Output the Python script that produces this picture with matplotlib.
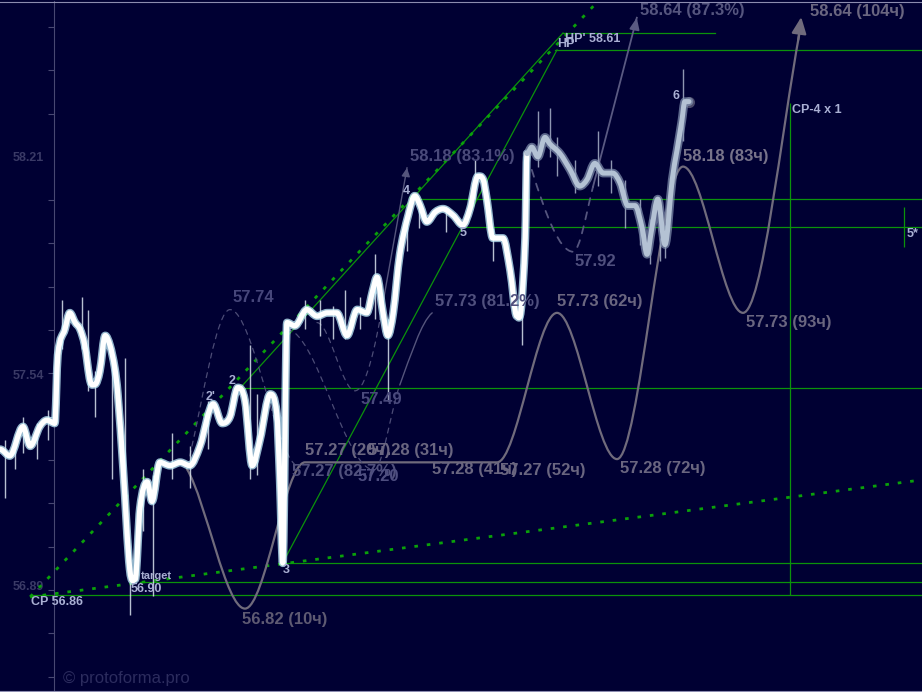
import numpy as np
import matplotlib.pyplot as plt
from matplotlib.path import Path
from matplotlib.patches import PathPatch

# x: hours from the start of the projection, y: price
t_left, t_right = -30.83, 122.83
p_low, p_high = 56.568, 58.688
axis_t = -21.83

# price line (white part, then grey part)
line_t = [-30.8, -29.2, -27.0, -25.8, -24.2, -23.0, -21.7, -21.2, -20.0, -19.2, -18.3, -17.5,
          -16.7, -15.8, -15.0, -14.2, -13.3, -12.5, -11.7, -11.2, -10.3, -9.2, -8.3, -7.5,
          -6.3, -5.5, -4.2, -2.5, -0.8, 0.8, 2.5, 4.7, 6.2, 7.5, 8.8, 10.0, 11.2, 12.5,
          14.2, 15.3, 15.8, 16.3, 17.0, 18.3, 20.3, 22.0, 23.7, 25.3, 27.0, 28.7, 30.3,
          31.3, 32.0, 33.0, 33.8, 34.7, 35.8, 37.2, 38.3, 39.2, 40.3, 41.7, 43.0, 44.7,
          46.3, 47.5, 48.8, 49.7, 50.3, 51.3, 53.0, 54.2, 55.3, 56.0, 56.7, 57.0]
line_p = [57.31, 57.29, 57.38, 57.32, 57.38, 57.40, 57.39, 57.60, 57.68, 57.73, 57.70, 57.68,
          57.63, 57.52, 57.51, 57.55, 57.66, 57.63, 57.56, 57.48, 57.25, 56.94, 56.91, 57.13,
          57.21, 57.15, 57.27, 57.26, 57.27, 57.26, 57.32, 57.45, 57.39, 57.41, 57.50, 57.46,
          57.26, 57.34, 57.48, 57.42, 57.22, 56.96, 57.70, 57.69, 57.74, 57.72, 57.73, 57.73,
          57.66, 57.74, 57.73, 57.80, 57.84, 57.73, 57.66, 57.73, 57.91, 58.03, 58.09, 58.06,
          58.01, 58.04, 58.05, 58.03, 58.00, 58.05, 58.15, 58.14, 58.08, 57.96, 57.96, 57.86,
          57.72, 57.74, 57.96, 58.22]
gray_t = [57.0, 57.8, 58.8, 60.0, 60.8, 62.5, 64.2, 65.8, 67.0, 68.3, 69.7, 71.3, 72.5,
          73.8, 75.0, 76.2, 77.0, 77.8, 78.8, 80.0, 81.2, 82.0, 82.8, 83.3, 84.0]
gray_p = [58.22, 58.24, 58.21, 58.27, 58.25, 58.22, 58.17, 58.12, 58.14, 58.19, 58.16, 58.16,
          58.13, 58.06, 58.06, 57.99, 57.91, 57.99, 58.08, 57.94, 58.14, 58.23, 58.32, 58.38,
          58.38]

# candle wicks
wick_t = [-30, -28.3, -27, -24.7, -22.8, -20.5, -17.2, -16.2, -15, -12.2, -10, -9.2, -7,
          -5.3, -2.2, 0.8, 3.8, 10.8, 12, 15.8, 20, 22.5, 24.7, 26.7, 29.2, 31.7, 33.8, 37,
          39, 43.5, 48.3, 51.3, 56.2, 58.8, 60.8, 62, 65, 68.8, 71, 73.3, 75.8, 77.5, 79.2,
          80, 83]
wick_lo = [57.16, 57.25, 57.30, 57.28, 57.34, 57.62, 57.62, 57.49, 57.41, 57.22, 57.22, 56.80,
           57.06, 56.86, 57.22, 57.19, 57.31, 57.22, 57.23, 56.96, 57.68, 57.66, 57.65, 57.65,
           57.68, 57.71, 57.46, 57.92, 57.99, 57.98, 58.08, 57.89, 57.63, 58.18, 58.21, 58.15,
           58.10, 58.12, 58.10, 57.99, 57.94, 57.88, 57.89, 57.90, 58.26]
wick_hi = [57.34, 57.35, 57.41, 57.39, 57.43, 57.77, 57.78, 57.74, 57.55, 57.62, 57.59, 56.90,
           57.25, 57.23, 57.36, 57.32, 57.46, 57.63, 57.48, 57.31, 57.77, 57.77, 57.75, 57.80,
           57.78, 57.91, 57.71, 58.05, 58.08, 58.06, 58.20, 57.99, 57.80, 58.35, 58.36, 58.27,
           58.20, 58.29, 58.20, 58.14, 58.08, 58.02, 57.96, 58.00, 58.48]

# main projection (hours, price)
proj_t = [0.3, 10, 20, 31, 41, 52, 62, 72, 83, 93, 102.5]
proj_p = [57.25, 56.82, 57.27, 57.27, 57.27, 57.27, 57.73, 57.28, 58.18, 57.73, 58.60]

# alternative (dashed) projections
d1_t, d1_p = [0.8, 7.5, 19.2], [57.29, 57.74, 57.255]
d2_t, d2_p = [22.0, 28.3, 32.5], [57.70, 57.49, 57.71]
d2_tip = (37.0, 58.176)
d3_t, d3_p = [17.0, 31.5, 35.8], [57.678, 57.247, 57.508]
d3_end = (41.2, 57.73)
d4_t, d4_p = [57.8, 64.7, 68.0], [58.17, 57.918, 58.118]
d4_tip = (75.3, 58.638)

# green levels
hl_p = [58.539, 58.591, 58.081, 57.995, 57.499, 56.961, 56.902, 56.862]
hl_t0 = [61.7, 63.0, 37.5, 46.2, 9.2, 16.3, -7.5, -25.8]
hl_t1 = [t_right, 88.3, t_right, t_right, t_right, t_right, t_right, t_right]
vl_t = [100.8, 119.8]
vl_lo = [56.862, 57.933]
vl_hi = [58.376, 58.056]
diag = [((9.2, 57.499), (63.0, 58.591)), ((16.3, 56.961), (62.0, 58.539))]
cp = (-25.8, 56.856)
dot_ends = [(72.0, 58.75), (122.8, 57.216)]

big_labels = [
    ("58.64 (87.3%)", 75.8, 58.659, '#55557e'),
    ("58.64 (104ч)", 104.2, 58.656, '#6a6680'),
    ("58.18 (83ч)", 83.0, 58.210, '#77738a'),
    ("57.73 (93ч)", 93.5, 57.699, '#6a6680'),
    ("57.73 (62ч)", 62.0, 57.764, '#6a6680'),
    ("57.28 (72ч)", 72.5, 57.250, '#6a6680'),
    ("57.28 (41ч)", 41.2, 57.247, '#6a6680'),
    ("57.27 (52ч)", 52.5, 57.244, '#6a6680'),
    ("57.28 (31ч)", 30.5, 57.305, '#6a6680'),
    ("57.27 (20ч)", 20.0, 57.305, '#6a6680'),
    ("57.27 (82.7%)", 17.8, 57.241, '#50507c'),
    ("57.20", 28.7, 57.225, '#4e4e80'),
    ("57.49", 29.2, 57.462, '#4a4a7c'),
    ("57.73 (81.2%)", 41.7, 57.764, '#50507e'),
    ("57.92", 65.0, 57.887, '#50507e'),
    ("58.18 (83.1%)", 37.5, 58.210, '#4a4a7a'),
    ("57.74", 8.0, 57.776, '#46467a'),
    ("56.82 (10ч)", 9.5, 56.785, '#5e5a72'),
]
small_labels = [
    ("HP", 62.0, 58.558, 9), ("HP' 58.61", 63.3, 58.572, 9), ("CP 56.86", -25.7, 56.841, 9),
    ("target", -7.3, 56.919, 8), ("56.90", -9.0, 56.881, 9), ("3", 16.3, 56.939, 9),
    ("2'", 3.5, 57.471, 9), ("2", 7.3, 57.521, 9), ("4", 36.3, 58.105, 9),
    ("5", 45.8, 57.976, 9), ("6", 81.3, 58.398, 9), ("CP-4 x 1", 101.2, 58.355, 9),
    ("5*", 120.2, 57.973, 9),
]
ytick_vals = [56.89, 57.54, 58.21]


def smooth(ts, ps, s0=0.0, s1=0.0):
    ts = np.asarray(ts, float)
    ps = np.asarray(ps, float)
    n = len(ts)
    m = np.zeros(n)
    for i in range(1, n - 1):
        a, b = ps[i] - ps[i - 1], ps[i + 1] - ps[i]
        if a * b > 0:
            m[i] = (ps[i + 1] - ps[i - 1]) / (ts[i + 1] - ts[i - 1])
    m[0], m[-1] = s0, s1
    verts = [(ts[0], ps[0])]
    codes = [Path.MOVETO]
    for i in range(n - 1):
        d = (ts[i + 1] - ts[i]) / 3
        verts += [(ts[i] + d, ps[i] + m[i] * d), (ts[i + 1] - d, ps[i + 1] - m[i + 1] * d),
                  (ts[i + 1], ps[i + 1])]
        codes += [Path.CURVE4] * 3
    return Path(verts, codes)


def draw(ax, path, **kw):
    ax.add_patch(PathPatch(path, fill=False, capstyle='round', joinstyle='round', **kw))


def tip(ax, start, end, color, lw, hl=0.6, hw=0.3):
    ax.annotate('', xy=end, xytext=start,
                arrowprops=dict(arrowstyle='-|>,head_length=%s,head_width=%s' % (hl, hw),
                                color=color, lw=lw, shrinkA=0, shrinkB=0), zorder=4)


fig = plt.figure(figsize=(9.22, 6.92), dpi=100)
fig.patch.set_facecolor('#000033')
ax = fig.add_axes([0, 1.5 / 692, 1, 689 / 692])
ax.set_facecolor('#000033')
ax.set_xlim(t_left, t_right)
ax.set_ylim(p_low, p_high)

green = '#0b930b'
# green levels
for p, a, b in zip(hl_p, hl_t0, hl_t1):
    ax.plot([a, b], [p, p], color=green, lw=0.9, zorder=2)
ax.vlines(vl_t, vl_lo, vl_hi, colors=green, lw=0.9, zorder=2)
for (a, b) in diag:
    ax.plot([a[0], b[0]], [a[1], b[1]], color=green, lw=0.9, zorder=2)
for e in dot_ends:
    ax.plot([cp[0], e[0]], [cp[1], e[1]], color='#0aa00a', lw=2.0,
            linestyle=(0, (1.3, 3.2)), zorder=2)

# projections
pc = '#706b7c'
draw(ax, smooth(proj_t, proj_p, s0=-0.03, s1=0.1), ec=pc, lw=1.6, zorder=3)
tip(ax, (102.2, 58.57), (102.7, 58.64), pc, 1.6, 1.0, 0.45)

dc = '#4c4c76'
draw(ax, smooth(d1_t, d1_p, s0=0.08), ec=dc, lw=0.9, ls=(0, (4, 4)), zorder=3)
draw(ax, smooth(d2_t, d2_p, s1=0.1), ec=dc, lw=0.9, ls=(0, (4, 4)), zorder=3)
ax.plot([d2_t[-1], d2_tip[0]], [d2_p[-1], d2_tip[1]], color='#55557c', lw=1.0, zorder=3)
tip(ax, (36.8, 58.15), d2_tip, '#55557c', 1.0, 0.5, 0.25)
draw(ax, smooth(d3_t, d3_p, s1=0.05), ec=dc, lw=0.9, ls=(0, (4, 4)), zorder=3)
draw(ax, smooth([d3_t[-1], d3_end[0]], [d3_p[-1], d3_end[1]], s0=0.05, s1=0.015),
     ec='#55557c', lw=1.0, zorder=3)
draw(ax, smooth(d4_t, d4_p, s0=-0.06, s1=0.071), ec='#55557e', lw=1.3, ls=(0, (4, 4)), zorder=3)
ax.plot([d4_t[-1], d4_tip[0]], [d4_p[-1], d4_tip[1]], color='#5a5a82', lw=1.3, zorder=3)
tip(ax, (75.0, 58.61), d4_tip, '#5a5a82', 1.3, 0.7, 0.3)

# wicks
wc = ['#d8e2ee' if t < 57 else '#a8b2c8' for t in wick_t]
ax.vlines(wick_t, wick_lo, wick_hi, colors=wc, lw=1.0, alpha=0.85, zorder=5)

# price line
wp = smooth(line_t, line_p)
draw(ax, wp, ec='#c4f2ff', lw=5.8, alpha=0.75, zorder=6)
draw(ax, wp, ec='white', lw=3.8, zorder=7)
gp = smooth(gray_t, gray_p)
draw(ax, gp, ec='#8494b2', lw=6.2, alpha=0.7, zorder=6)
draw(ax, gp, ec='#b4c2d4', lw=3.6, zorder=7)
ax.plot(gray_t[-1], gray_p[-1], 'o', ms=7, color='#4a4a6a', zorder=5)

# labels
for s, t, p, c in big_labels:
    ax.text(t, p, s, color=c, fontsize=12, fontweight='bold', family='Liberation Sans',
            va='center', ha='left', zorder=9)
for s, t, p, fs in small_labels:
    ax.text(t, p, s, color='#aab0d4', fontsize=fs, fontweight='bold', family='Liberation Sans',
            va='center', ha='left', zorder=9)

# axes styling
ax.spines['right'].set_visible(False)
ax.spines['top'].set_color('#8c8cb0')
ax.spines['bottom'].set_color('#8c8cb0')
ax.spines['left'].set_position(('data', axis_t))
ax.spines['left'].set_color('#484872')
ax.spines['left'].set_linewidth(0.8)
ax.set_xticks([])
ax.set_yticks(ytick_vals)
ax.set_yticklabels(['%.2f' % v for v in ytick_vals])
ax.set_yticks(58.21 + 0.1333 * np.arange(-12, 4), minor=True)
ax.tick_params(axis='y', which='major', length=0, pad=7, labelsize=9, labelcolor='#3a3a66')
ax.tick_params(axis='y', which='minor', length=4, color='#484872', width=0.8)
for lbl in ax.get_yticklabels():
    lbl.set_fontweight('bold')
    lbl.set_family('Liberation Sans')

fig.text(63 / 922, 1 - 678 / 692, "© protoforma.pro", color='#2c2c5e', fontsize=12,
         family='Liberation Sans', va='center', ha='left')

plt.savefig("out.png", dpi=100, facecolor=fig.get_facecolor())
